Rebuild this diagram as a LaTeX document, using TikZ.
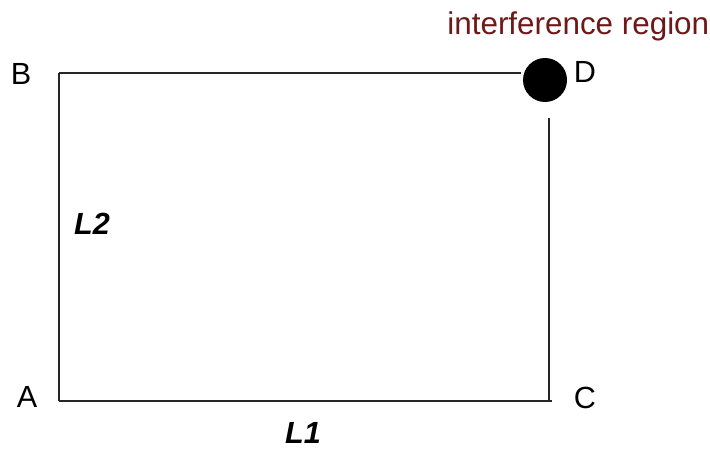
\documentclass[tikz,border=0pt]{standalone}
\usepackage{fontspec}
\setmainfont{Liberation Sans}
\usepackage{xcolor}
\usetikzlibrary{calc,positioning}
\definecolor{regionred}{RGB}{110,24,24}
\begin{document}
\begin{tikzpicture}[x=0.5pt,y=-0.5pt,line join=round,
    font=\fontsize{15.3}{18}\selectfont,
    side/.style={line width=1.1pt,black!85},
    corner/.style={inner sep=0pt},
    len/.style={inner sep=0pt,font=\fontsize{15.3}{18}\selectfont\bfseries\itshape}]
  \useasboundingbox (0,0) rectangle (710,449);
  % ---- corners -----------------------------------------------------------
  \coordinate (A) at (59,401);
  \coordinate (B) at (59,73);
  \coordinate (C) at (552,401);
  \coordinate (Ctop) at (549,118);
  \coordinate (Bend) at (521,73);
  % ---- interference spot at D --------------------------------------------
  \node[circle,fill=black,minimum size=22pt,inner sep=0pt] (spot) at (545,80) {};
  % ---- sides of the rectangle --------------------------------------------
  \draw[side] (B) -- (Bend);
  \draw[side] (B) -- (A);
  \draw[side] (A) -- (C);
  \draw[side] (Ctop) -- (Ctop |- C);
  % ---- corner labels -----------------------------------------------------
  \node[corner] (labA) at (27,397) {A};
  \node[corner] (labB) at (21,74) {B};
  \node[corner] (labC) at (585,398) {C};
  \node[corner] (labD) at (585,72) {D};
  % ---- side lengths ------------------------------------------------------
  \node[len] (L1) at (303,433) {L1};
  \node[len] (L2) at (92,224) {L2};
  % ---- region label ------------------------------------------------------
  \node[corner,anchor=base west,regionred,font=\fontsize{15.7}{18}\selectfont]
       (region) at (447,35) {interference region};
\end{tikzpicture}
\end{document}
